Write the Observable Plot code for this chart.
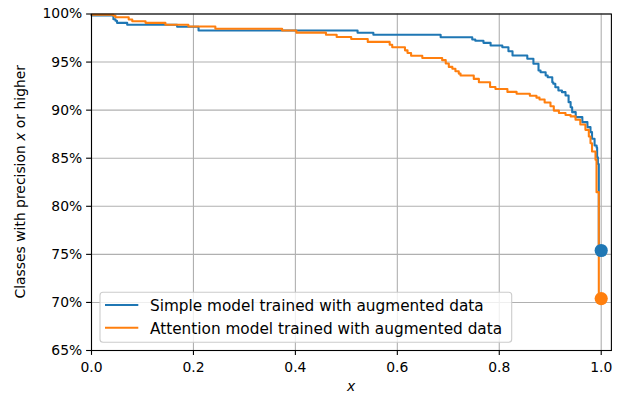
<!DOCTYPE html>
<html>
<head>
<meta charset="utf-8">
<script src="https://cdn.jsdelivr.net/npm/d3@7"></script>
<script src="https://cdn.jsdelivr.net/npm/@observablehq/plot@0.6"></script>
<style>
  body { margin: 0; background: #fff; }
  svg { display: block; }
</style>
</head>
<body>
<div id="chart"></div>
<script>
// Share of classes (%) whose precision is at least x, as a step curve.
const simpleX = [0, 0.043, 0.047, 0.050, 0.070, 0.168, 0.210, 0.522, 0.553, 0.685, 0.747, 0.753,
  0.769, 0.783, 0.806, 0.818, 0.826, 0.855, 0.867, 0.877, 0.881, 0.891, 0.895, 0.904, 0.906,
  0.910, 0.916, 0.923, 0.930, 0.936, 0.940, 0.943, 0.950, 0.963, 0.973, 0.979, 0.982, 0.987,
  0.991, 0.992, 0.9935, 0.9953, 1.0];
const simpleY = [99.85, 99.45, 99.3, 99.08, 98.88, 98.67, 98.28, 98.05, 97.84, 97.59, 97.35, 97.22,
  97.0, 96.72, 96.55, 96.13, 95.68, 95.34, 94.82, 94.12, 93.95, 93.6, 93.43, 92.9, 92.74,
  92.39, 92.04, 91.87, 91.52, 90.83, 90.3, 89.79, 89.27, 88.75, 88.23, 87.71, 87.02, 86.32,
  86.1, 85.1, 84.4, 75.4, 75.4];

const attentionX = [0, 0.043, 0.047, 0.073, 0.080, 0.106, 0.145, 0.190, 0.243, 0.374, 0.402, 0.460,
  0.481, 0.5095, 0.542, 0.585, 0.590, 0.615, 0.620, 0.627, 0.649, 0.688, 0.695, 0.701, 0.708,
  0.714, 0.7205, 0.724, 0.750, 0.760, 0.782, 0.7925, 0.816, 0.834, 0.860, 0.873, 0.879, 0.889,
  0.9005, 0.907, 0.917, 0.930, 0.940, 0.9496, 0.959, 0.969, 0.9757, 0.979, 0.982, 0.9888,
  0.9908, 0.9953, 1.0];
const attentionY = [99.92, 99.82, 99.67, 99.43, 99.25, 99.08, 98.88, 98.7, 98.46, 98.28, 98.06, 97.85,
  97.6, 97.4, 97.1, 96.8, 96.55, 96.22, 95.94, 95.66, 95.43, 95.2, 94.85, 94.5, 94.3,
  94.05, 93.8, 93.6, 93.25, 92.9, 92.4, 92.2, 91.9, 91.7, 91.5, 91.3, 91.1, 90.8,
  90.4, 89.95, 89.7, 89.5, 89.35, 89.0, 88.5, 87.95, 87.26, 86.56, 85.7, 84.85,
  81.47, 70.4, 70.4];

const seriesNames = ["Simple model trained with augmented data", "Attention model trained with augmented data"];
const seriesColors = ["#1f77b4", "#ff7f0e"];

const xTicks = [0, 0.2, 0.4, 0.6, 0.8, 1.0];
const yTicks = [65, 70, 75, 80, 85, 90, 95, 100];

const series = [
  {name: seriesNames[0], xs: simpleX, ys: simpleY},
  {name: seriesNames[1], xs: attentionX, ys: attentionY}
];
const rows = series.flatMap(s => s.xs.map((x, i) => ({series: s.name, x, y: s.ys[i]})));
const ends = series.map(s => ({series: s.name, x: s.xs[s.xs.length - 1], y: s.ys[s.ys.length - 1]}));

const font = "'DejaVu Sans', sans-serif";
const fs = 13.9;
const legendFs = 15.3;

const chart = Plot.plot({
  width: 620,
  height: 396,
  marginLeft: 91,
  marginRight: 9.1,
  marginTop: 13.5,
  marginBottom: 46,
  style: {fontFamily: font, fontSize: fs + "px", color: "black", background: "white", overflow: "visible"},
  x: {domain: [0, 1.02]},
  y: {domain: [65, 100]},
  color: {domain: seriesNames, range: seriesColors},
  marks: [
    Plot.gridX(xTicks, {stroke: "#b0b0b0", strokeOpacity: 1, strokeWidth: 1.1}),
    Plot.gridY(yTicks, {stroke: "#b0b0b0", strokeOpacity: 1, strokeWidth: 1.1}),
    Plot.line(rows, {x: "x", y: "y", z: "series", stroke: "series", curve: "step-after", strokeWidth: 2.08}),
    Plot.dot(ends, {x: "x", y: "y", fill: "series", r: 6.6}),
    Plot.frame({stroke: "black", strokeWidth: 1.1}),
    Plot.axisX(xTicks, {tickFormat: d3.format(".1f"), tickSize: 4.9, tickPadding: 6.5, strokeWidth: 1.1, label: null}),
    Plot.axisY(yTicks, {tickFormat: d => d + "%", tickSize: 4.9, tickPadding: 4.4, strokeWidth: 1.1, label: null})
  ]
});

const svg = d3.select(chart);

// Axis titles, with the variable set in italics
const yTitle = svg.append("text")
  .attr("transform", "translate(25,181.75) rotate(-90)")
  .attr("text-anchor", "middle")
  .attr("font-family", font).attr("font-size", fs).attr("fill", "black");
yTitle.append("tspan").text("Classes with precision ");
yTitle.append("tspan").attr("font-style", "italic").text("x");
yTitle.append("tspan").text(" or higher");

svg.append("text")
  .attr("x", 351).attr("y", 391)
  .attr("text-anchor", "middle")
  .attr("font-family", font).attr("font-size", fs).attr("font-style", "italic").attr("fill", "black")
  .text("x");

// Legend box in the lower left corner of the plot area
const legend = svg.append("g").attr("text-anchor", "start");
legend.append("rect")
  .attr("x", 100).attr("y", 292.3).attr("width", 411.7).attr("height", 50)
  .attr("rx", 3)
  .attr("fill", "white").attr("fill-opacity", 0.8)
  .attr("stroke", "#cccccc").attr("stroke-width", 1.1);
seriesNames.forEach((name, i) => {
  const cy = 305 + i * 22.7;
  legend.append("line")
    .attr("x1", 105).attr("x2", 138.3).attr("y1", cy).attr("y2", cy)
    .attr("stroke", seriesColors[i]).attr("stroke-width", 2.08);
  legend.append("text")
    .attr("x", 150).attr("y", cy + 5.8)
    .attr("text-anchor", "start")
    .attr("font-family", font).attr("font-size", legendFs).attr("fill", "black")
    .text(name);
});

document.getElementById("chart").appendChild(chart);
</script>
</body>
</html>
